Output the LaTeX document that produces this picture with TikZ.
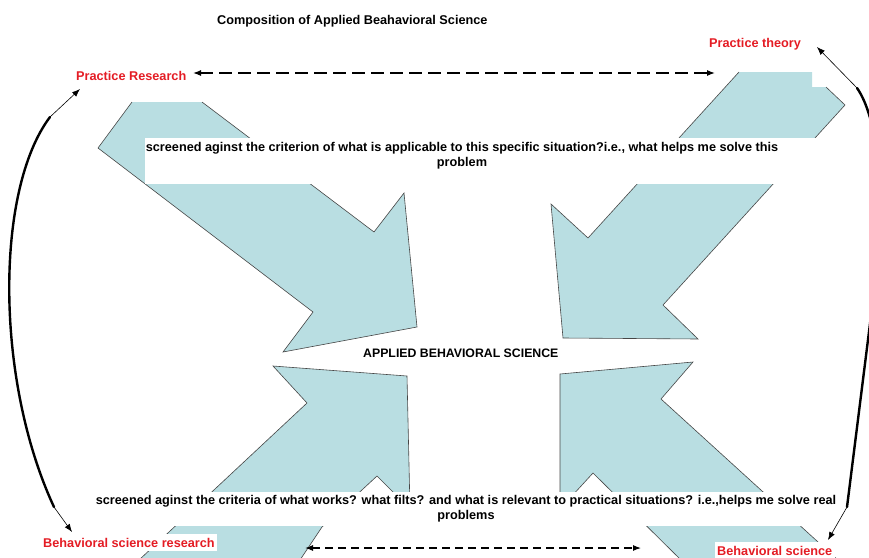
\documentclass[tikz,border=0pt]{standalone}
\usepackage{fontspec}
\setmainfont{Liberation Sans}
\usetikzlibrary{arrows.meta}
\definecolor{absblue}{RGB}{185,222,226}
\definecolor{absred}{RGB}{228,28,36}
\definecolor{absedge}{RGB}{70,70,70}
\begin{document}
\begin{tikzpicture}[x=1pt, y=-1pt,
  every node/.style={font=\fontsize{12.7}{15.3}\selectfont\bfseries, inner sep=0pt},
  lbl/.style={anchor=base west},
  redlbl/.style={lbl, text=absred},
  whitebox/.style={fill=white, anchor=north west},
  blockfill/.style={fill=absblue},
  rim/.style={draw=absedge, line width=0.6pt},
  link/.style={-{Latex[length=8pt,width=6pt]}, line width=0.6pt},
  looppath/.style={line width=2.4pt, line cap=round},
  dashlink/.style={{Latex[length=8pt,width=6pt]}-{Latex[length=8pt,width=6pt]}, line width=1.3pt}]
  \useasboundingbox (0,0) rectangle (869,557);
  \clip (0,0) rectangle (869,557);

  % block arrows
  \fill[blockfill] (132,102) -- (202,102) -- (374,232) -- (404,193) -- (417,327) -- (283,352) -- (313,312) -- (98,148) -- cycle;
  \draw[rim] (202,102) -- (374,232) -- (404,193) -- (417,327) -- (283,352) -- (313,312) -- (98,148) -- (132,102);
  \fill[blockfill] (739,72) -- (812,72) -- (812,87) -- (826,87) -- (845,105) -- (663,305) -- (698,339) -- (563,338) -- (551,204) -- (588,238) -- cycle;
  \draw[rim] (826,87) -- (845,105) -- (663,305) -- (698,339) -- (563,338) -- (551,204) -- (588,238) -- (739,72);
  \fill[blockfill] (273,366) -- (407,376) -- (410,509) -- (377,476) -- (322,527) -- (300,560) -- (139,560) -- (307,403) -- cycle;
  \draw[rim] (300,560) -- (322,527) -- (377,476) -- (410,509) -- (407,376) -- (273,366) -- (307,403) -- (139,560);
  \fill[blockfill] (560,374) -- (693,362) -- (661,399) -- (840,562) -- (683,562) -- (593,473) -- (560,509) -- cycle;
  \draw[rim] (683,562) -- (593,473) -- (560,509) -- (560,374) -- (693,362) -- (661,399) -- (840,562);

  % white boxes
  \node[whitebox, minimum width=673pt, minimum height=46pt] (topbox) at (145,138) {};
  \node[whitebox, minimum width=755pt, minimum height=34pt] (botbox) at (90,492) {};

  % texts
  \node[lbl] (title) at (217,24) {Composition of Applied Beahavioral Science};
  \node[lbl, font=\fontsize{12.3}{15}\selectfont\bfseries] (core) at (363,357) {APPLIED BEHAVIORAL SCIENCE};
  \node[align=center, anchor=north] (toptext) at (462,142) {screened aginst the criterion of what is applicable to this specific situation?i.e., what helps me solve this\\problem};
  \node[align=center, anchor=north] (bottext) at (466,495) {screened aginst the criteria of what works? what filts? and what is relevant to practical situations? i.e.,helps me solve real\\problems};
  \node[redlbl] (practres) at (76,80) {Practice Research};
  \node[redlbl] (practtheo) at (709,47) {Practice theory};
  \node[redlbl, fill=white, inner xsep=2.5pt, inner ysep=4pt] (bsres) at (40.5,547) {Behavioral science research};
  \node[redlbl, fill=white, inner xsep=2.5pt, inner ysep=4pt] (bsci) at (714.5,555) {Behavioral science};

  % connectors
  \coordinate (resR) at (193,73);
  \coordinate (theoL) at (715,73);
  \coordinate (bsresR) at (305,548);
  \coordinate (bsciL) at (641,548);
  \draw[dashlink, dash pattern=on 13pt off 6pt] (resR) -- (theoL);
  \draw[dashlink, line width=1.1pt, dash pattern=on 8pt off 5pt] (bsresR) -- (bsciL);

  \coordinate (resTip) at (80,89);
  \coordinate (leftTop) at (50,117);
  \coordinate (leftBot) at (54,507);
  \coordinate (bsresTip) at (72,532);
  \draw[looppath] (leftTop) .. controls (-5,190) and (-5,380) .. (leftBot);
  \draw[link] (leftTop) -- (resTip);
  \draw[link] (leftBot) -- (bsresTip);

  \coordinate (theoTip) at (817,47);
  \coordinate (rightTop) at (857,88);
  \coordinate (rightBot) at (847,507);
  \coordinate (bsciTip) at (828,540);
  \draw[looppath] (rightTop) .. controls (878,118) and (884,190) .. (878,260) -- (rightBot);
  \draw[link] (rightTop) -- (theoTip);
  \draw[link] (rightBot) -- (bsciTip);
\end{tikzpicture}
\end{document}
